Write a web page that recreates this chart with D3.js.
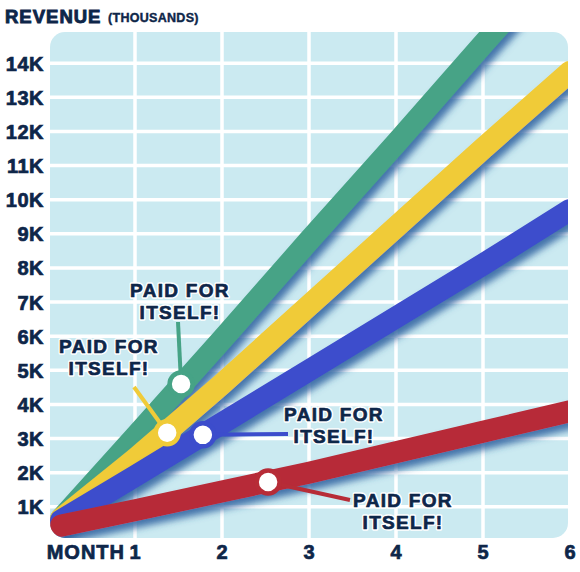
<!DOCTYPE html>
<html>
<head>
<meta charset="utf-8">
<script src="https://cdn.jsdelivr.net/npm/d3@7/dist/d3.min.js"></script>
<style>
  html, body { margin: 0; padding: 0; background: #ffffff; }
  svg { display: block; }
  text { font-family: "Liberation Sans", Arial, sans-serif; font-weight: bold; }
</style>
</head>
<body>
<svg id="chart" width="580" height="572"></svg>
<script>
// ---------- data ----------
const months = [0.15, 1, 2, 3, 4, 5, 6];
const greenValues  = [0.65, 3.05, 5.9, 8.8, 11.65, 14.55, 17.4];
const yellowValues = [0.65, 2.4, 4.6, 6.9, 9.2, 11.5, 13.75];
const blueValues   = [0.6, 1.9, 3.45, 5.0, 6.55, 8.1, 9.7];
const redValues    = [0.45, 0.9, 1.45, 2.0, 2.6, 3.2, 3.8];
const seriesNames  = ["green", "yellow", "blue", "red"];
const seriesColors = ["#46a386", "#f0cb38", "#3c4dcc", "#b72c37"];
const yTickValues  = [1, 2, 3, 4, 5, 6, 7, 8, 9, 10, 11, 12, 13, 14];
const yTickLabels  = ["1K","2K","3K","4K","5K","6K","7K","8K","9K","10K","11K","12K","13K","14K"];
const xTickValues  = [1, 2, 3, 4, 5, 6];
const xTickLabels  = ["1", "2", "3", "4", "5", "6"];
const paidMonths   = [1.53, 1.37, 1.78, 2.53];
const paidValues   = [4.6, 3.17, 3.11, 1.73];
const paidText     = ["PAID FOR", "ITSELF!"];

// ---------- layout ----------
const panel = { x0: 50, x1: 568, y0: 32, y1: 538, r: 15 };
const ink = "#0e2649";
const x = d3.scaleLinear().domain([0, 6]).range([48, 570]);
const y = d3.scaleLinear().domain([0, 15]).range([541, 29]);

// annotation layout (pixels): text center x, first baseline, leader end
const annLayout = [
  { tx: 180, ty: 297, lx: 178, ly: 322 },
  { tx: 109, ty: 353, lx: 134, ly: 387 },
  { tx: 334, ty: 421, lx: 288, ly: 434 },
  { tx: 403, ty: 507, lx: 350, ly: 500 }
];

const svg = d3.select("#chart");
const defs = svg.append("defs");

defs.append("clipPath").attr("id", "panelClip")
  .append("rect")
  .attr("x", panel.x0).attr("y", panel.y0)
  .attr("width", panel.x1 - panel.x0).attr("height", panel.y1 - panel.y0)
  .attr("rx", panel.r).attr("ry", panel.r);

const f = defs.append("filter").attr("id", "shadow")
  .attr("x", "-20%").attr("y", "-20%").attr("width", "140%").attr("height", "140%");
f.append("feGaussianBlur").attr("in", "SourceAlpha").attr("stdDeviation", 3.5).attr("result", "blur");
f.append("feOffset").attr("in", "blur").attr("dx", 4).attr("dy", 6).attr("result", "off");
f.append("feFlood").attr("flood-color", "#2c5f9e").attr("flood-opacity", 0.85).attr("result", "col");
f.append("feComposite").attr("in", "col").attr("in2", "off").attr("operator", "in").attr("result", "sh");
const fm = f.append("feMerge");
fm.append("feMergeNode").attr("in", "sh");
fm.append("feMergeNode").attr("in", "SourceGraphic");

// panel background
svg.append("rect")
  .attr("x", panel.x0).attr("y", panel.y0)
  .attr("width", panel.x1 - panel.x0).attr("height", panel.y1 - panel.y0)
  .attr("rx", panel.r).attr("ry", panel.r)
  .attr("fill", "#cbeaf1");

// grid
const grid = svg.append("g").attr("clip-path", "url(#panelClip)");
grid.selectAll("line.h").data(yTickValues).enter().append("line")
  .attr("x1", panel.x0).attr("x2", panel.x1)
  .attr("y1", d => y(d)).attr("y2", d => y(d))
  .attr("stroke", "#ffffff").attr("stroke-width", 3.5);
grid.selectAll("line.v").data(xTickValues.slice(0, 5)).enter().append("line")
  .attr("y1", panel.y0).attr("y2", panel.y1)
  .attr("x1", d => x(d)).attr("x2", d => x(d))
  .attr("stroke", "#ffffff").attr("stroke-width", 3.5);

// series lines
const allValues = [greenValues, yellowValues, blueValues, redValues];
const line = d3.line().x(d => x(d[0])).y(d => y(d[1]));
const linesG = svg.append("g").attr("clip-path", "url(#panelClip)");
allValues.forEach((vals, i) => {
  linesG.append("path")
    .datum(months.map((m, j) => [m, vals[j]]))
    .attr("class", "series-" + seriesNames[i])
    .attr("d", line)
    .attr("fill", "none")
    .attr("stroke", seriesColors[i])
    .attr("stroke-width", 22)
    .attr("stroke-linecap", "round")
    .attr("stroke-linejoin", "round")
    .attr("filter", "url(#shadow)");
});

// annotations
const ann = svg.append("g");
function annText(L, halo) {
  const t = ann.append("text")
    .attr("x", L.tx).attr("y", L.ty)
    .attr("text-anchor", "middle")
    .attr("font-size", 19).attr("letter-spacing", 1.3)
    .attr("fill", ink)
    .attr("stroke", halo ? "#ffffff" : ink)
    .attr("stroke-width", halo ? 3.5 : 0.7)
    .attr("stroke-linejoin", "round");
  paidText.forEach((s, k) => {
    t.append("tspan").attr("x", L.tx).attr("dy", k === 0 ? 0 : 22).text(s);
  });
}
paidMonths.forEach((m, i) => {
  const cx = x(m), cy = y(paidValues[i]);
  const L = annLayout[i];
  ann.append("line")
    .attr("x1", cx).attr("y1", cy).attr("x2", L.lx).attr("y2", L.ly)
    .attr("stroke", seriesColors[i]).attr("stroke-width", 4);
  ann.append("circle")
    .attr("cx", cx).attr("cy", cy).attr("r", 11.5)
    .attr("fill", "#ffffff").attr("stroke", seriesColors[i]).attr("stroke-width", 4.5);
  annText(L, true);
  annText(L, false);
});

// y axis labels
svg.append("g").selectAll("text").data(yTickValues).enter().append("text")
  .attr("x", 44).attr("y", d => y(d) + 7.5)
  .attr("text-anchor", "end")
  .attr("font-size", 20).attr("letter-spacing", 0.5)
  .attr("fill", ink).attr("stroke", ink).attr("stroke-width", 0.7)
  .text((d, i) => yTickLabels[i]);

// x axis labels
svg.append("g").selectAll("text").data(xTickValues).enter().append("text")
  .attr("x", d => x(d)).attr("y", 559)
  .attr("text-anchor", "middle")
  .attr("font-size", 20)
  .attr("fill", ink).attr("stroke", ink).attr("stroke-width", 0.7)
  .text((d, i) => xTickLabels[i]);
svg.append("text")
  .attr("x", 125).attr("y", 559)
  .attr("text-anchor", "end")
  .attr("font-size", 20).attr("letter-spacing", 1)
  .attr("fill", ink).attr("stroke", ink).attr("stroke-width", 0.7)
  .text("MONTH");

// title
svg.append("text")
  .attr("x", 5).attr("y", 23)
  .attr("font-size", 18.5).attr("letter-spacing", 1)
  .attr("fill", ink).attr("stroke", ink).attr("stroke-width", 0.9)
  .text("REVENUE");
svg.append("text")
  .attr("x", 108).attr("y", 22)
  .attr("font-size", 12.5).attr("letter-spacing", 0.3)
  .attr("fill", ink).attr("stroke", ink).attr("stroke-width", 0.4)
  .text("(THOUSANDS)");
</script>
</body>
</html>
